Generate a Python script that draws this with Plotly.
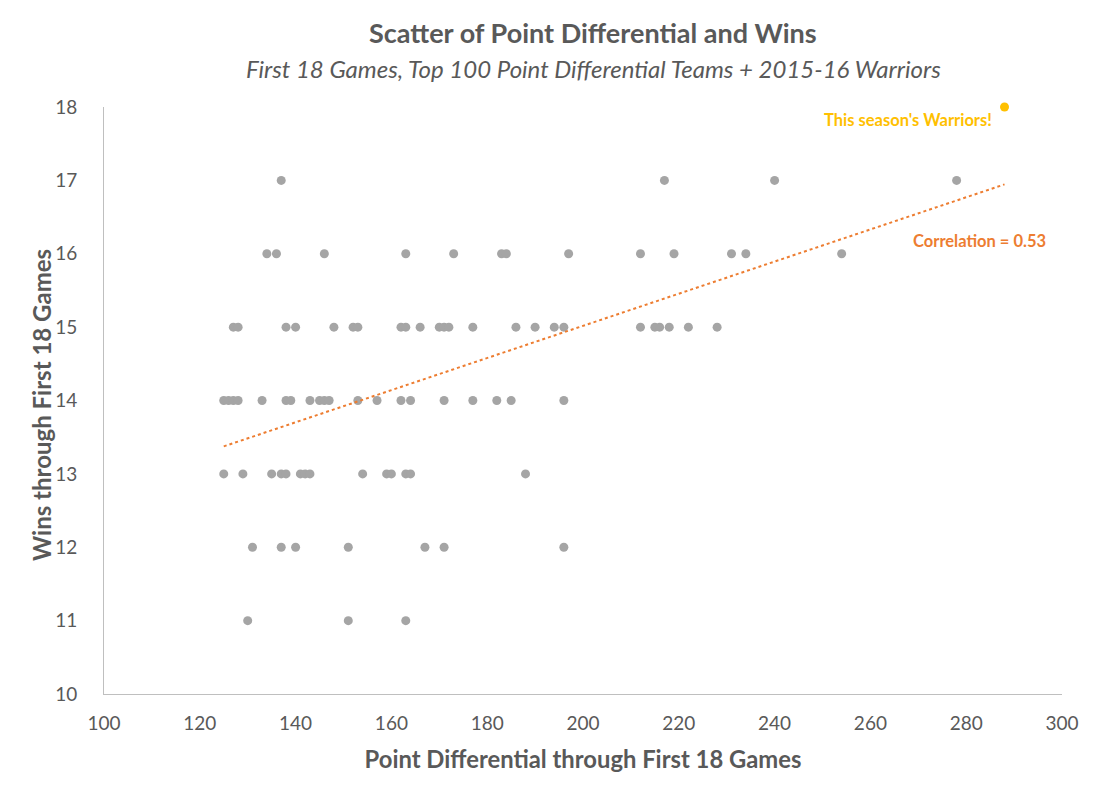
import numpy as np
import plotly.graph_objects as go

# Point differential / wins after 18 games, top 100 teams
pd_17 = [137, 217, 240, 278]
pd_16 = [134, 136, 146, 163, 173, 183, 184, 197, 212, 219, 231, 234, 254]
pd_15 = [127, 128, 138, 140, 148, 152, 153, 162, 163, 166, 170, 171, 172,
         177, 186, 190, 194, 196, 212, 215, 216, 218, 222, 228]
pd_14 = [125, 126, 127, 128, 133, 138, 139, 143, 145, 146, 147, 153, 157,
         162, 164, 171, 177, 182, 185, 196]
pd_13 = [125, 129, 135, 137, 138, 141, 142, 143, 154, 159, 160, 163, 164, 188]
pd_12 = [131, 137, 140, 151, 167, 171, 196]
pd_11 = [130, 151, 163]

warriors_pd = [288]
warriors_wins = [18]

rows = {17: pd_17, 16: pd_16, 15: pd_15, 14: pd_14, 13: pd_13, 12: pd_12, 11: pd_11}
teams_pd = [p for w, lst in rows.items() for p in lst]
teams_wins = [w for w, lst in rows.items() for p in lst]

FONT = "Lato"
GREY_TXT = "#595959"

# trendline over all points, Warriors included
all_x = np.array(teams_pd + warriors_pd, dtype=float)
all_y = np.array(teams_wins + warriors_wins, dtype=float)
slope, icpt = np.polyfit(all_x, all_y, 1)
tx = np.array([all_x.min(), all_x.max()])
ty = slope * tx + icpt

# plot area in page pixels: x 104..1062, y 107..694
def px(x):
    return (x - 104) / (1062 - 104)

def py(y):
    return (694 - y) / (694 - 107)

fig = go.Figure()

fig.add_trace(go.Scatter(
    x=teams_pd, y=teams_wins, mode="markers",
    marker=dict(color="#a5a5a5", size=9),
    name="Teams", hoverinfo="x+y"
))

fig.add_trace(go.Scatter(
    x=tx, y=ty, mode="lines",
    line=dict(color="#ed7d31", width=2, dash="dot"),
    name="Trend", hoverinfo="skip"
))

fig.add_trace(go.Scatter(
    x=warriors_pd, y=warriors_wins, mode="markers",
    marker=dict(color="#ffc000", size=9),
    cliponaxis=False,
    name="2015-16 Warriors"
))

fig.add_annotation(
    x=warriors_pd[0], y=warriors_wins[0], xref="x", yref="y",
    text="<b>This season's Warriors!</b>", showarrow=False,
    xanchor="right", yanchor="middle", xshift=-11, yshift=-13,
    font=dict(family=FONT, size=16.5, color="#ffc000")
)

fig.add_annotation(
    x=px(1048), y=py(241), xref="paper", yref="paper",
    text="<b>Correlation = 0.53</b>", showarrow=False,
    xanchor="right", yanchor="middle",
    font=dict(family=FONT, size=16.5, color="#ed7d31")
)

# title + subtitle
fig.add_annotation(
    x=px(593), y=py(33), xref="paper", yref="paper",
    text="<b>Scatter of Point Differential and Wins</b>",
    showarrow=False, xanchor="center", yanchor="middle",
    font=dict(family=FONT, size=27, color=GREY_TXT)
)
fig.add_annotation(
    x=px(593), y=py(68), xref="paper", yref="paper",
    text="<i>First 18 Games, Top 100 Point Differential Teams + 2015-16 Warriors</i>",
    showarrow=False, xanchor="center", yanchor="middle",
    font=dict(family=FONT, size=24, color=GREY_TXT)
)

# y axis title
fig.add_annotation(
    x=px(42), y=py(405), xref="paper", yref="paper",
    text="<b>Wins through First 18 Games</b>", textangle=-90,
    showarrow=False, xanchor="center", yanchor="middle",
    font=dict(family=FONT, size=24, color=GREY_TXT)
)

# page body has an 8px margin, so the figure is shifted by 8px
fig.update_layout(
    width=1092, height=789,
    margin=dict(l=96, r=38, t=99, b=103),
    paper_bgcolor="white", plot_bgcolor="white",
    showlegend=False,
    font=dict(family=FONT, color=GREY_TXT),
)

fig.update_xaxes(
    range=[100, 300], dtick=20, showgrid=False, zeroline=False,
    showline=True, linecolor="#bfbfbf", linewidth=1,
    ticks="", ticklabelstandoff=12, automargin=False,
    tickfont=dict(family=FONT, size=19, color=GREY_TXT),
    title=dict(text="<b>Point Differential through First 18 Games</b>",
               font=dict(family=FONT, size=23.8, color=GREY_TXT), standoff=18)
)
fig.update_yaxes(
    range=[10, 18], dtick=1, showgrid=False, zeroline=False,
    showline=True, linecolor="#bfbfbf", linewidth=1,
    ticks="", ticklabelstandoff=22, automargin=False,
    tickfont=dict(family=FONT, size=19, color=GREY_TXT),
)

fig.write_html("out.html")
